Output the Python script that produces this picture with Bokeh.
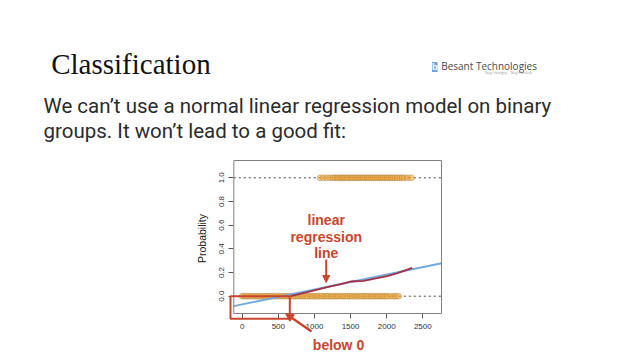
import math
from bokeh.plotting import figure
from bokeh.models import (Range1d, FixedTicker, PrintfTickFormatter, Label,
                          BoxAnnotation, Arrow, NormalHead)
from bokeh.embed import file_html
from bokeh.resources import INLINE

# ---- data -------------------------------------------------------------
y_ticks = [0.0, 0.2, 0.4, 0.6, 0.8, 1.0]
x_ticks = [0, 500, 1000, 1500, 2000, 2500]
x_lim = [-116, 2759]          # plot box limits (R style)
y_lim = [-0.146, 1.146]

group0_x = [0, 30, 62, 95, 128, 160, 193, 226, 258, 290, 323, 356, 388, 420,
            452, 485, 518, 550, 583, 615, 648, 680, 712, 745, 778, 810, 842,
            875, 908, 940, 972, 1005, 1038, 1070, 1102, 1135, 1168, 1200, 1232,
            1265, 1298, 1330, 1362, 1395, 1428, 1460, 1492, 1525, 1558, 1590,
            1622, 1655, 1688, 1720, 1752, 1785, 1818, 1850, 1882, 1915, 1948,
            1980, 2010, 2050, 2095, 2125, 2165]
group1_x = [1080, 1125, 1170, 1215, 1260, 1290, 1320, 1350, 1378, 1405, 1432,
            1460, 1488, 1515, 1542, 1570, 1598, 1625, 1652, 1680, 1708, 1735,
            1762, 1790, 1818, 1845, 1872, 1900, 1928, 1955, 1982, 2010, 2038,
            2065, 2092, 2120, 2150, 2180, 2215, 2250, 2290, 2340]

blue_x = [-116, 2759]
blue_y = [-0.084, 0.279]

red_x = [669, 800, 1000, 1177, 1350, 1499, 1684, 1850, 2007, 2150, 2353]
red_y = [0.0, 0.02, 0.05, 0.076, 0.10, 0.124, 0.13, 0.15, 0.17, 0.195, 0.24]

# ---- layout: the frame covers the whole page --------------------------
W, H = 640, 360
X0_PX, X_PER_PX = 241.7, 1 / 0.07224     # page x of x=0, data units per px
Y0_PX, Y_PER_PX = 295.7, 1 / 118.4       # page y of y=0


def fx(px):
    return (px - X0_PX) * X_PER_PX


def fy(py):
    return (Y0_PX - py) * Y_PER_PX


p = figure(width=W, height=H, output_backend="svg", toolbar_location=None,
           x_range=Range1d(fx(0), fx(W)), y_range=Range1d(fy(H), fy(0)),
           min_border=0)
p.min_border_left = p.min_border_right = 0
p.min_border_top = p.min_border_bottom = 0
p.background_fill_color = "white"
p.border_fill_color = "white"
p.outline_line_color = None
p.grid.visible = False

for ax in (p.xaxis[0], p.yaxis[0]):
    ax.axis_line_color = None
    ax.major_tick_out = 5
    ax.major_tick_in = 0
    ax.minor_tick_line_color = None
    ax.major_tick_line_color = "#555555"
    ax.major_label_text_font = "Liberation Sans"
    ax.major_label_text_font_size = "8px"
    ax.major_label_text_color = "#333333"

p.xaxis[0].fixed_location = y_lim[0]
p.xaxis[0].ticker = FixedTicker(ticks=x_ticks)
p.xaxis[0].major_label_standoff = 6
p.yaxis[0].fixed_location = x_lim[0]
p.yaxis[0].ticker = FixedTicker(ticks=y_ticks)
p.yaxis[0].formatter = PrintfTickFormatter(format="%.1f")
p.yaxis[0].major_label_orientation = "vertical"
p.yaxis[0].major_label_standoff = 5

# plot box
p.add_layout(BoxAnnotation(left=x_lim[0], right=x_lim[1], bottom=y_lim[0],
                           top=y_lim[1], fill_alpha=0, line_color="#808080",
                           line_alpha=1, line_width=1))

p.add_layout(Label(x=fx(201), y=fy(238), text="Probability", angle=math.pi / 2,
                   text_align="center", text_baseline="middle",
                   text_font="Liberation Sans", text_font_size="10.5px",
                   text_color="#222222"))

# dotted reference lines at 0 and 1
for yv in (0.0, 1.0):
    p.line(x_lim, [yv, yv], line_color="#444444", line_dash="2 3", line_width=1)

p.scatter(group0_x, [0.0] * len(group0_x), size=6, fill_color="#f2a93b",
          fill_alpha=0.6, line_color="#8a6a3a", line_alpha=0.45, line_width=0.7)
p.scatter(group1_x, [1.0] * len(group1_x), size=6, fill_color="#f2a93b",
          fill_alpha=0.6, line_color="#8a6a3a", line_alpha=0.45, line_width=0.7)

p.line(blue_x, blue_y, line_color="#74aad8", line_width=2)
p.line(red_x, red_y, line_color="#a3304a", line_width=1.8)

RED = "#c9452e"
# red box marking the values below 0
p.add_layout(BoxAnnotation(left=fx(230), right=fx(289.3), top=0.0,
                           bottom=fy(318.3), fill_alpha=0, line_color=RED,
                           line_alpha=1, line_width=2))

for txt, py in (("linear", 219), ("regression", 236), ("line", 252.3)):
    p.add_layout(Label(x=fx(325.7), y=fy(py), text=txt, text_align="center",
                       text_baseline="alphabetic", text_font="Liberation Sans",
                       text_font_style="bold", text_font_size="14px",
                       text_color=RED))
p.add_layout(Arrow(x_start=fx(325.7), y_start=fy(259), x_end=fx(325.7),
                   y_end=fy(282), line_color=RED, line_width=2,
                   end=NormalHead(size=7, fill_color=RED, line_color=RED)))
p.add_layout(Arrow(x_start=fx(311), y_start=fy(331), x_end=fx(285), y_end=fy(313),
                   line_color=RED, line_width=2.5,
                   end=NormalHead(size=8, fill_color=RED, line_color=RED)))
p.add_layout(Label(x=fx(338), y=fy(344), text="below 0", text_align="center",
                   text_baseline="alphabetic", text_font="Liberation Sans",
                   text_font_style="bold", text_font_size="14px",
                   text_color=RED))

# ---- slide texts ------------------------------------------------------
p.add_layout(Label(x=fx(50.7), y=fy(63.3), text="Classification",
                   text_font="Liberation Serif", text_font_size="29px",
                   text_color="#111111", text_baseline="alphabetic"))
p.add_layout(Label(x=fx(43), y=fy(105.7),
                   text="We can\u2019t use a normal linear regression model on binary",
                   text_font="Roboto", text_font_size="20.5px", text_color="#2b2b2b",
                   text_baseline="alphabetic"))
p.add_layout(Label(x=fx(43), y=fy(130.7),
                   text="groups. It won\u2019t lead to a good fit:",
                   text_font="Roboto", text_font_size="20.5px", text_color="#2b2b2b",
                   text_baseline="alphabetic"))
p.add_layout(Label(x=fx(431.5), y=fy(66.5), text="b",
                   text_font="Liberation Sans", text_font_style="bold",
                   text_font_size="9px", text_color="white",
                   background_fill_color="#6fa3d9", text_baseline="alphabetic"))
p.add_layout(Label(x=fx(440.7), y=fy(65), text="Besant Technologies",
                   text_font="Open Sans", text_font_size="10px",
                   text_color="#4a4a4a", text_baseline="alphabetic"))
p.add_layout(Label(x=fx(484), y=fy(71.5), text="Stay Hungry - Stay Foolish",
                   text_font="Open Sans", text_font_size="4px",
                   text_color="#9a9a9a", text_baseline="alphabetic"))

open("out.html", "w").write(file_html(p, INLINE))
